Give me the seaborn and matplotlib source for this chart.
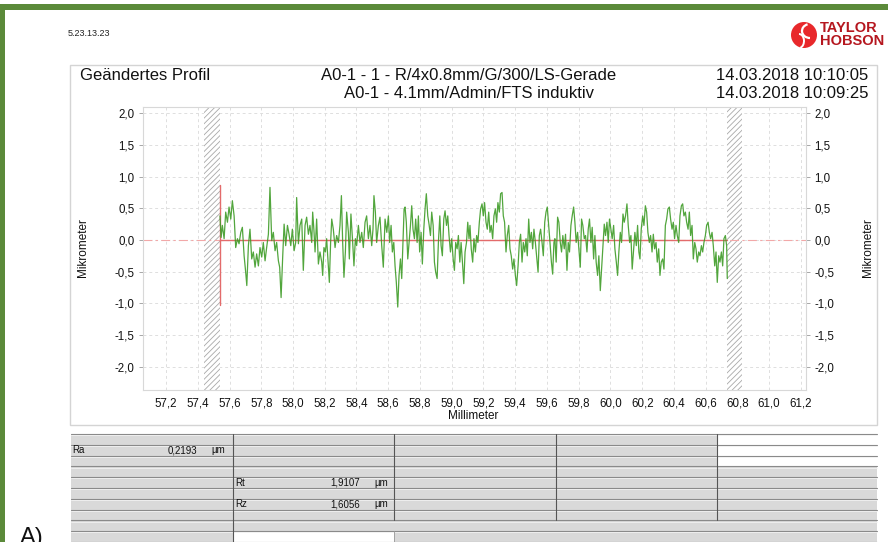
import matplotlib
matplotlib.use("Agg")
import matplotlib.pyplot as plt
from matplotlib import font_manager
from matplotlib.patches import Rectangle, Circle, Arc
from matplotlib.ticker import FixedLocator, MultipleLocator, FuncFormatter
import numpy as np
import pandas as pd
import seaborn as sns

# ---- measured profile: position along the trace (mm) and height (µm) ----
position_mm = [
    57.540, 57.547, 57.555, 57.566, 57.576, 57.587, 57.597, 57.608, 57.618, 57.629,
    57.639, 57.650, 57.660, 57.671, 57.681, 57.692, 57.702, 57.709, 57.719, 57.729,
    57.740, 57.750, 57.761, 57.771, 57.782, 57.792, 57.803, 57.813, 57.824, 57.834,
    57.845, 57.855, 57.866, 57.876, 57.887, 57.897, 57.908, 57.916, 57.925, 57.935,
    57.944, 57.954, 57.965, 57.975, 57.986, 57.996, 58.007, 58.017, 58.023, 58.034,
    58.044, 58.055, 58.065, 58.076, 58.086, 58.097, 58.107, 58.118, 58.124, 58.132,
    58.139, 58.149, 58.160, 58.170, 58.181, 58.187, 58.195, 58.204, 58.212, 58.223,
    58.229, 58.237, 58.244, 58.254, 58.265, 58.275, 58.286, 58.296, 58.305, 58.313,
    58.321, 58.330, 58.338, 58.349, 58.355, 58.365, 58.376, 58.384, 58.393, 58.401,
    58.412, 58.422, 58.433, 58.443, 58.454, 58.464, 58.475, 58.485, 58.496, 58.504,
    58.510, 58.519, 58.527, 58.538, 58.548, 58.559, 58.569,
    58.580, 58.591, 58.601, 58.609, 58.618, 58.626, 58.635, 58.643, 58.651, 58.660,
    58.668, 58.677, 58.685, 58.693, 58.700, 58.706, 58.714, 58.723, 58.731, 58.740,
    58.748, 58.756, 58.765, 58.773, 58.782, 58.790, 58.798, 58.807, 58.815, 58.824,
    58.832, 58.840, 58.849, 58.857, 58.866, 58.874, 58.883, 58.891, 58.899, 58.908,
    58.916, 58.925, 58.933, 58.941, 58.950, 58.958, 58.967, 58.975, 58.983, 58.992,
    59.000, 59.009, 59.017, 59.025, 59.034, 59.042, 59.051, 59.059, 59.067, 59.076,
    59.084, 59.093, 59.101, 59.109,
    59.115, 59.123, 59.132, 59.140, 59.149, 59.157, 59.165, 59.174, 59.182, 59.191,
    59.199, 59.207, 59.216, 59.224, 59.233, 59.241, 59.249, 59.258, 59.266, 59.275,
    59.283, 59.291, 59.300, 59.308, 59.317, 59.325, 59.333, 59.342, 59.350, 59.359,
    59.367, 59.375, 59.384, 59.392, 59.401, 59.409, 59.418, 59.426, 59.434, 59.443,
    59.451, 59.460, 59.468, 59.476, 59.485, 59.493, 59.502, 59.510, 59.518, 59.527,
    59.535, 59.544, 59.552, 59.560, 59.569, 59.577, 59.586, 59.594, 59.602, 59.611,
    59.619, 59.628, 59.636, 59.644,
    59.650, 59.658, 59.667, 59.675, 59.684, 59.692, 59.700, 59.709, 59.717, 59.726,
    59.734, 59.742, 59.751, 59.759, 59.768, 59.776, 59.784, 59.793, 59.801, 59.810,
    59.818, 59.826, 59.835, 59.843, 59.852, 59.860, 59.868, 59.877, 59.885, 59.894,
    59.902, 59.910, 59.919, 59.927, 59.936, 59.944, 59.953, 59.961, 59.969, 59.978,
    59.986, 59.994, 60.003, 60.011, 60.020, 60.028, 60.037, 60.045, 60.053, 60.062,
    60.070, 60.079, 60.087, 60.095, 60.104, 60.112, 60.121, 60.129, 60.137, 60.146,
    60.154, 60.163, 60.171, 60.179,
    60.186, 60.194, 60.203, 60.211, 60.220, 60.228, 60.236, 60.245, 60.253, 60.262,
    60.270, 60.278, 60.287, 60.295, 60.304, 60.312, 60.320, 60.329, 60.337, 60.346,
    60.354, 60.362, 60.371, 60.379, 60.388, 60.396, 60.404, 60.413, 60.421, 60.430,
    60.438, 60.447, 60.455, 60.463, 60.472, 60.480, 60.489, 60.497, 60.505, 60.514,
    60.522, 60.531, 60.539, 60.547, 60.556, 60.564, 60.573, 60.581, 60.589, 60.598,
    60.606, 60.615, 60.623, 60.631, 60.640, 60.648, 60.657, 60.665, 60.673, 60.682,
    60.690, 60.699, 60.707, 60.715, 60.724, 60.732, 60.736,
]
height_um = [
    0.38, 0.04, 0.23, 0.02, 0.44, 0.28, 0.52, 0.33, 0.62, 0.38,
    -0.12, 0.02, -0.06, 0.12, 0.20, -0.25, -0.51, -0.72, -0.09, 0.17,
    -0.30, -0.19, -0.43, -0.22, -0.41, -0.12, -0.27, -0.04, -0.33, -0.12,
    0.09, 0.83, -0.01, 0.12, -0.17, -0.04, -0.33, -0.43, -0.91, -0.27,
    0.25, -0.09, 0.23, 0.09, -0.09, 0.17, -0.17, -0.04, 0.67, -0.06,
    0.23, 0.33, -0.48, 0.23, 0.36, 0.09, 0.23, -0.04, 0.44, 0.15,
    -0.19, 0.33, -0.38, -0.19, -0.35, -0.56, -0.12, -0.19, 0.02, -0.41,
    -0.67, -0.04, 0.33, 0.17, -0.12, 0.07, -0.04, 0.23, 0.70, -0.04,
    -0.59, -0.19, 0.44, 0.12, -0.30, 0.41, -0.04, -0.41, 0.02, -0.09,
    0.23, -0.04, 0.12, -0.12, 0.28, 0.38, 0.02, 0.23, -0.09, 0.17,
    0.70, 0.44, -0.04, 0.23, 0.36, -0.09, -0.43,
    0.33, 0.12, 0.38, -0.04, 0.23, -0.19, -0.04, -0.41, -0.67, -1.06,
    -0.56, -0.30, -0.61, -0.04, 0.49, 0.52, 0.28, -0.30, -0.04, 0.23,
    0.54, 0.17, 0.02, 0.33, -0.04, 0.38, -0.19, 0.12, -0.38, 0.17,
    0.49, 0.73, 0.38, 0.25, 0.07, 0.44, 0.23, -0.35, -0.51, -0.61,
    -0.04, 0.38, -0.09, -0.25, 0.33, 0.46, 0.23, 0.38, 0.07, -0.19,
    0.02, -0.30, -0.48, -0.04, -0.14, 0.07, -0.35, -0.04, -0.33, -0.69,
    -0.19, -0.04, 0.28, 0.02,
    0.23, -0.14, -0.35, 0.02, -0.19, 0.07, -0.04, 0.28, 0.49, 0.57,
    0.38, 0.59, 0.28, 0.17, 0.44, 0.12, 0.23, 0.02, 0.38, 0.49,
    0.28, 0.59, 0.44, 0.73, 0.75, 0.38, 0.28, -0.19, 0.07, 0.23,
    -0.14, -0.25, -0.46, -0.30, -0.56, -0.72, -0.41, -0.04, 0.09, -0.35,
    -0.04, -0.19, 0.02, -0.25, 0.33, -0.04, 0.12, -0.14, 0.17, -0.04,
    -0.27, -0.51, 0.07, 0.17, -0.04, -0.25, 0.28, 0.44, 0.52, 0.23,
    -0.04, -0.35, -0.54, -0.04,
    0.02, -0.35, 0.36, 0.28, -0.04, -0.19, 0.07, -0.14, 0.09, -0.48,
    -0.04, -0.19, 0.23, 0.38, 0.52, 0.28, -0.04, 0.12, -0.14, -0.43,
    0.33, 0.23, 0.02, 0.07, -0.19, 0.17, 0.33, -0.04, 0.20, -0.30,
    0.07, -0.35, -0.56, -0.25, -0.80, -0.46, -0.09, 0.25, 0.07, 0.28,
    -0.04, 0.33, 0.17, 0.02, 0.23, -0.14, -0.35, -0.56, -0.19, 0.12,
    -0.04, 0.41, 0.28, 0.38, 0.57, 0.23, -0.04, 0.07, -0.46, -0.14,
    0.12, -0.09, 0.23, -0.19,
    -0.30, 0.17, 0.38, 0.23, 0.54, 0.44, 0.12, -0.04, 0.07, -0.19,
    0.09, -0.14, -0.04, -0.35, -0.14, -0.56, -0.35, -0.30, -0.46, 0.23,
    0.33, 0.49, 0.52, 0.33, 0.17, 0.28, 0.02, 0.23, 0.07, -0.04,
    0.38, 0.54, 0.57, 0.38, 0.44, 0.28, 0.17, 0.44, 0.07, 0.23,
    -0.30, -0.04, -0.14, -0.35, -0.19, -0.25, -0.09, -0.19, -0.04, 0.07,
    0.23, 0.28, 0.12, 0.02, 0.12, -0.09, -0.41, -0.19, -0.67, -0.25,
    -0.35, -0.19, -0.41, 0.02, 0.07, -0.09, -0.61,
]

# evaluation window, run-in / run-out cut-offs and start marker
eval_start_mm, eval_end_mm = 57.540, 60.736
cutoff_left_mm = (57.44, 57.540)
cutoff_right_mm = (60.736, 60.83)
start_marker_um = (-1.03, 0.87)

x_ticks = [57.2, 57.4, 57.6, 57.8, 58.0, 58.2, 58.4, 58.6, 58.8, 59.0, 59.2,
           59.4, 59.6, 59.8, 60.0, 60.2, 60.4, 60.6, 60.8, 61.0, 61.2]
y_ticks = [-2.0, -1.5, -1.0, -0.5, 0.0, 0.5, 1.0, 1.5, 2.0]

title_left = "Geändertes Profil"
title_mid = ["A0-1 - 1 - R/4x0.8mm/G/300/LS-Gerade", "A0-1 - 4.1mm/Admin/FTS induktiv"]
title_right = ["14.03.2018 10:10:05", "14.03.2018 10:09:25"]

# roughness parameters with their table row / column
param_names = ["Ra", "Rt", "Rz"]
param_values = ["0,2193", "1,9107", "1,6056"]
param_rows = [1, 4, 6]
param_cols = [0, 1, 1]

profile = pd.DataFrame({"x": position_mm, "z": height_um})

sns.set_theme(style="white")
available = {f.name for f in font_manager.fontManager.ttflist}
family = [n for n in ["Liberation Sans", "Arial", "DejaVu Sans"] if n in available]
narrow = [n for n in ["Liberation Sans Narrow"] if n in available] + family
plt.rcParams["font.family"] = family
plt.rcParams["hatch.linewidth"] = 0.6

W, H = 888, 542
fig = plt.figure(figsize=(W / 100, H / 100), dpi=100)
fig.patch.set_facecolor("white")

# page layer in pixel coordinates
page = fig.add_axes([0, 0, 1, 1], zorder=0)
page.set_xlim(0, W)
page.set_ylim(H, 0)
page.axis("off")

green = "#5b8a3a"
page.add_patch(Rectangle((0, 4), W, 6, facecolor=green, edgecolor="none"))
page.add_patch(Rectangle((0, 4), 5, H, facecolor=green, edgecolor="none"))

page.text(68, 33, "5.23.13.23", fontsize=6.5, color="#222222", va="center")

# logo
page.add_patch(Circle((804, 35), 13, facecolor="#e8282b", edgecolor="none"))
page.add_patch(Arc((810, 31), 16, 14, theta1=90, theta2=250, color="white", lw=1.6))
page.add_patch(Arc((799, 41), 10, 14, theta1=270, theta2=80, color="white", lw=1.4))
page.text(820, 28, "TAYLOR", fontsize=10.5, fontweight="bold", color="#b5171f", va="center")
page.text(820, 41, "HOBSON", fontsize=10.5, fontweight="bold", color="#b5171f", va="center")

# chart card
page.add_patch(Rectangle((70, 65), 807, 360, facecolor="white", edgecolor="#d4d4d4", lw=1))
tfs = 12
page.text(80, 75, title_left, fontsize=tfs, va="center", color="#111111")
page.text(469, 75, title_mid[0], fontsize=tfs, va="center", ha="center", color="#111111")
page.text(469, 93, title_mid[1], fontsize=tfs, va="center", ha="center", color="#111111")
page.text(868, 75, title_right[0], fontsize=tfs, va="center", ha="right", color="#111111")
page.text(868, 93, title_right[1], fontsize=tfs, va="center", ha="right", color="#111111")
page.text(83, 248, "Mikrometer", fontsize=8.5, rotation=90, va="center", ha="center", color="#111111")
page.text(868, 248, "Mikrometer", fontsize=8.5, rotation=90, va="center", ha="center", color="#111111")
page.text(473, 416, "Millimeter", fontsize=8.5, va="center", ha="center", color="#111111")

# parameter table
col_x = [70.5, 233, 394, 556, 717, 877]
row_top, row_h, n_rows = 434, 10.8, 10
gray = "#d9d9d9"
for r in range(n_rows):
    y0 = row_top + r * row_h
    if r < 8:
        for c in range(5):
            fc = "white" if (c == 4 and r < 3) else gray
            page.add_patch(Rectangle((col_x[c], y0), col_x[c + 1] - col_x[c], row_h,
                                     facecolor=fc, edgecolor="none"))
    else:
        page.add_patch(Rectangle((col_x[0], y0), col_x[1] - col_x[0], row_h, facecolor=gray, edgecolor="none"))
        fc = "white" if r == 9 else gray
        page.add_patch(Rectangle((col_x[1], y0), col_x[2] - col_x[1], row_h, facecolor=fc, edgecolor="none"))
        page.add_patch(Rectangle((col_x[2], y0), col_x[5] - col_x[2], row_h, facecolor=gray, edgecolor="none"))
for r in range(n_rows + 1):
    y0 = row_top + r * row_h
    page.plot([col_x[0], col_x[5]], [y0, y0], color="#8a8a8a", lw=0.8)
    page.plot([col_x[0], col_x[5]], [y0 + 1.2, y0 + 1.2], color="#f2f2f2", lw=0.6)
for c in range(1, 5):
    y_end = row_top + 8 * row_h
    page.plot([col_x[c], col_x[c]], [row_top, y_end], color="#555555", lw=0.8)
page.plot([col_x[1], col_x[1]], [row_top + 8 * row_h, H], color="#555555", lw=0.8)
page.plot([col_x[2], col_x[2]], [row_top + 9 * row_h, H], color="#999999", lw=0.6)
for name, val, r, c in zip(param_names, param_values, param_rows, param_cols):
    yc = row_top + (r + 0.5) * row_h
    x0 = col_x[c]
    page.text(x0 + 2, yc, name, fontsize=7, va="center", color="#111111")
    page.text(x0 + 127, yc, val, fontsize=7, va="center", ha="right", color="#111111")
    page.text(x0 + 148, yc, "µm", fontsize=7, va="center", ha="center", color="#111111")

page.text(20, 549, "A)", fontsize=17, va="bottom", color="#111111")

# profile axes
left, right, top, bottom = 143, 806, 107, 390
ax = fig.add_axes([left / W, 1 - bottom / H, (right - left) / W, (bottom - top) / H], zorder=1)
ax.set_facecolor("white")
ax.set_xlim(57.055, 61.232)
ax.set_ylim(-2.37, 2.10)

for lo, hi in (cutoff_left_mm, cutoff_right_mm):
    ax.axvspan(lo, hi, facecolor="white", edgecolor="#a8a8a8", hatch="//////", lw=0, zorder=1)

ax.axhline(0, color="#f2a8a8", lw=0.8, ls=(0, (8, 3, 2, 3)), zorder=1)
ax.plot([eval_start_mm, eval_end_mm], [0, 0], color="#e36b6b", lw=1.0, zorder=2)
ax.plot([eval_start_mm, eval_start_mm], list(start_marker_um), color="#e36b6b", lw=1.0, zorder=2)

sns.lineplot(data=profile, x="x", y="z", ax=ax, estimator=None, sort=False,
             color="#3f9c28", lw=0.9, alpha=0.9, zorder=3)

ax.xaxis.set_major_locator(FixedLocator(x_ticks))
ax.xaxis.set_minor_locator(MultipleLocator(0.05))
ax.yaxis.set_major_locator(FixedLocator(y_ticks))
comma = FuncFormatter(lambda v, p: f"{v:.1f}".replace(".", ","))
ax.xaxis.set_major_formatter(comma)
ax.yaxis.set_major_formatter(comma)
ax.grid(True, which="major", color="#dedede", lw=0.7, ls=(0, (3, 3)))
ax.tick_params(axis="x", which="major", direction="out", length=4, width=0.6,
               color="#999999", labelsize=8.3, pad=1.5, labelcolor="#111111")
ax.tick_params(axis="x", which="minor", direction="out", length=2.5, width=0.5, color="#aaaaaa")
ax.tick_params(axis="y", which="major", direction="out", length=3, width=0.6,
               color="#999999", labelsize=8.3, pad=3, labelcolor="#111111",
               left=True, right=True, labelleft=True, labelright=True)
for s in ax.spines.values():
    s.set_color("#d8d8d8")
    s.set_linewidth(0.8)
ax.set_xlabel("")
ax.set_ylabel("")

fig.savefig("out.png", dpi=100)
